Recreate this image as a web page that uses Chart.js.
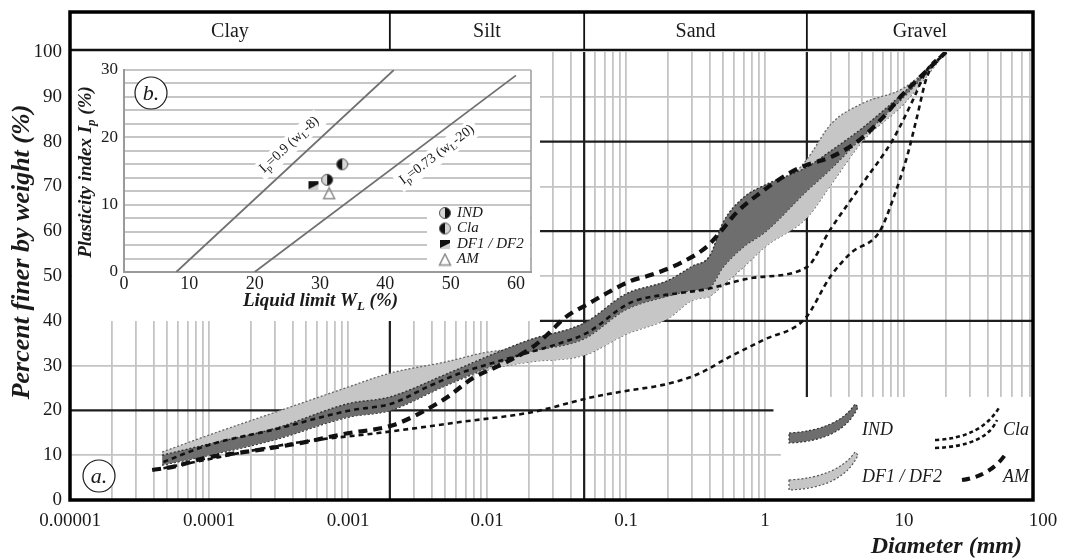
<!DOCTYPE html>
<html>
<head>
<meta charset="utf-8">
<script src="https://cdn.jsdelivr.net/npm/chart.js@4.4.0/dist/chart.umd.min.js"></script>
<style>
  html, body { margin: 0; padding: 0; background: #fff; }
  #wrap { position: relative; width: 1067px; height: 558px; }
  #main { position: absolute; left: 0; top: 0; }
  #insetBox { position: absolute; left: 72px; top: 52px; width: 468px; height: 269px; background: #fff; }
</style>
</head>
<body>
<div id="wrap">
  <canvas id="main" width="1067" height="558"></canvas>
  <div id="insetBox"><canvas id="inset" width="468" height="269"></canvas></div>
</div>
<script>
// ===== DATA: (a.) grain size distribution, diameter (mm) / percent finer =====
const bandD     = [4.6e-5, 1e-4, 3e-4, 1e-3, 2e-3, 5e-3, 0.01, 0.02, 0.05, 0.1, 0.2, 0.3, 0.4, 0.5, 0.7, 1, 2, 3, 5, 10, 20];
const indHigh   = [10, 12.5, 16, 21.5, 23, 28, 32, 35.7, 39.5, 46, 49, 52.2, 54.5, 62, 67.5, 70.3, 74.3, 78, 83, 91, 100];
const indLow    = [7.8, 10, 13.5, 18.5, 20, 25.5, 29.5, 33, 36, 42.5, 45.5, 46.8, 47.5, 52, 56.5, 59.8, 69, 74, 81, 90, 100];
const dfHigh    = [10.7, 14.5, 19.6, 25.2, 28.3, 30.8, 33, 34, 37, 43, 46, 48, 50, 53, 60, 66, 76, 84, 88.5, 92, 100];
const dfLow     = [7.8, 10, 13.5, 18.5, 20, 25.5, 29, 30.8, 32.3, 37, 40.5, 44.6, 45.5, 48, 52, 56.5, 63, 70.5, 80, 88.5, 100];

const claLoD = [4.7e-5, 4.5e-4, 1.7e-3, 6.4e-3, 0.021, 0.058, 0.107, 0.185, 0.324, 0.56, 0.97, 1.94, 2.94, 4.1, 6.7, 8.3, 10.5, 12.4, 14.6, 20];
const claLoP = [7.1, 12.9, 15, 17.4, 19.6, 23, 24.5, 25.7, 28, 32, 35.7, 40.5, 49.8, 55, 60, 67, 76.6, 85.5, 94.4, 100];
const claUpD = [4.7e-5, 1e-4, 3e-4, 1e-3, 2.1e-3, 3.7e-3, 6.4e-3, 0.011, 0.0194, 0.0335, 0.0524, 0.107, 0.245, 0.358, 0.82, 2.0, 2.94, 5.07, 8.3, 11.6, 14.6, 20];
const claUpP = [8.5, 12.3, 15.8, 19.9, 21.6, 25.2, 28.3, 30.6, 32.8, 35, 37.3, 44, 46.2, 46.9, 49.6, 52, 60.3, 70.8, 80.4, 89.3, 96, 100];
const amD = [3.9e-5, 5.5e-5, 9.4e-5, 2e-4, 4.5e-4, 9.2e-4, 2.1e-3, 3.3e-3, 5.2e-3, 7.9e-3, 0.0124, 0.021, 0.028, 0.036, 0.055, 0.073, 0.11, 0.15, 0.25, 0.38, 0.47, 0.63, 0.92, 1.5, 2.0, 3.0, 4.8, 7, 9.7, 14, 20];
const amP = [6.7, 7.4, 9.4, 10.9, 12.7, 14.7, 16.7, 19.4, 23, 27.2, 30.1, 34, 37.3, 40.6, 44, 46.2, 49, 50.2, 53, 56.5, 59.6, 64.3, 68.5, 73, 74.8, 76.6, 80.4, 85.3, 90.4, 95.3, 100];

// soil classes (header row) and their limits in mm
const classNames  = ['Clay', 'Silt', 'Sand', 'Gravel'];
const classBounds = [0.002, 0.05, 2];

// x axis (mm)
const X_MIN = 1e-5, X_MAX = 84.7;
const xTickValues = [1e-5, 1e-4, 1e-3, 0.01, 0.1, 1, 10, 100];
const xTickLabels = ['0.00001', '0.0001', '0.001', '0.01', '0.1', '1', '10', '100'];

// heavy reference lines: [percent, from mm, to mm] and [mm, from %, to %]
const heavyH = [[20, 1e-5, 1.15], [40, 0.024, X_MAX], [60, 0.024, X_MAX], [80, 0.024, X_MAX]];
const heavyV = [[0.002, 0, 40], [0.05, 0, 100], [2, 23, 100]];
const legendCorner = [1.3, 23];   // mm, % : white legend area below/right of this

// ===== DATA: (b.) plasticity chart =====
const line1WL = [8, 41.3],  line1IP = [0, 30];
const line2WL = [20, 60],   line2IP = [0, 29.2];
const sampleNames = ['IND', 'Cla', 'DF1 / DF2', 'AM'];
const sampleWL = [31.1, 33.4, 29, 31.4];
const sampleIP = [13.7, 16, 12.9, 11.7];

const SERIF = "'Liberation Serif', 'Times New Roman', serif";
const INK = '#1a1a1a';
Chart.defaults.font.family = SERIF;
Chart.defaults.color = INK;

const pts = (xs, ys) => xs.map((x, i) => ({ x, y: ys[i] }));

// ===== TEXT HELPERS (subscripts) =====
function richWidth(ctx, parts, size, style) {
  let w = 0;
  parts.forEach(([t, sub]) => {
    ctx.font = `${style} ${sub ? Math.round(size * 0.7) : size}px ${SERIF}`;
    w += ctx.measureText(t).width;
  });
  return w;
}
function drawRich(ctx, parts, x, y, size, style) {
  let cx = x - richWidth(ctx, parts, size, style) / 2;
  ctx.textAlign = 'left';
  ctx.textBaseline = 'middle';
  parts.forEach(([t, sub]) => {
    ctx.font = `${style} ${sub ? Math.round(size * 0.7) : size}px ${SERIF}`;
    ctx.fillText(t, cx, sub ? y + size * 0.3 : y);
    cx += ctx.measureText(t).width;
  });
}
function circleTag(ctx, x, y, text) {
  ctx.beginPath();
  ctx.arc(x, y, 16, 0, 2 * Math.PI);
  ctx.fillStyle = '#fff';
  ctx.fill();
  ctx.lineWidth = 1.2;
  ctx.strokeStyle = INK;
  ctx.stroke();
  ctx.fillStyle = INK;
  ctx.font = `italic 22px ${SERIF}`;
  ctx.textAlign = 'center';
  ctx.textBaseline = 'middle';
  ctx.fillText(text, x, y + 1);
}

// ===== MARKERS for the plasticity chart =====
function makeMarker(kind) {
  const c = document.createElement('canvas');
  c.width = 14; c.height = 14;
  const g = c.getContext('2d');
  if (kind === 'IND' || kind === 'Cla') {
    const half = kind === 'IND' ? [-Math.PI / 2, Math.PI / 2] : [Math.PI / 2, Math.PI * 1.5];
    g.fillStyle = '#d6d6d6';
    g.beginPath(); g.arc(7, 7, 5.5, 0, 2 * Math.PI); g.fill();
    g.fillStyle = '#111';
    g.beginPath(); g.moveTo(7, 7); g.arc(7, 7, 5.5, half[0], half[1]); g.closePath(); g.fill();
    g.strokeStyle = '#555'; g.lineWidth = 1;
    g.beginPath(); g.arc(7, 7, 5.5, 0, 2 * Math.PI); g.stroke();
  } else if (kind === 'DF1 / DF2') {
    g.fillStyle = '#cfcfcf'; g.fillRect(2, 3, 10, 9);
    g.fillStyle = '#111';
    g.beginPath(); g.moveTo(2, 3); g.lineTo(12, 3); g.lineTo(12, 6); g.lineTo(2, 11); g.closePath(); g.fill();
  } else {
    g.strokeStyle = '#8a8a8a'; g.lineWidth = 1.5;
    g.beginPath(); g.moveTo(7, 1.5); g.lineTo(12.5, 12.5); g.lineTo(1.5, 12.5); g.closePath(); g.stroke();
  }
  return c;
}
const markers = sampleNames.map(makeMarker);

// ===== MAIN CHART DECORATION =====
function bandSwatch(ctx, x0, y0, x1, y1, fill, edge) {
  const cx = x0 + (x1 - x0) * 0.75, cy = y0 - 2;
  ctx.beginPath();
  ctx.moveTo(x0, y0 - 5);
  ctx.quadraticCurveTo(cx - 2, cy - 6, x1 - 2, y1);
  ctx.lineTo(x1 + 1, y1 + 3);
  ctx.quadraticCurveTo(cx + 3, cy + 5, x0, y0 + 5);
  ctx.closePath();
  ctx.fillStyle = fill;
  ctx.fill();
  ctx.setLineDash([2, 2]);
  ctx.strokeStyle = edge;
  ctx.lineWidth = 1.2;
  ctx.stroke();
  ctx.setLineDash([]);
}
function dashCurve(ctx, x0, y0, cx, cy, x1, y1, width, dash) {
  ctx.beginPath();
  ctx.moveTo(x0, y0);
  ctx.quadraticCurveTo(cx, cy, x1, y1);
  ctx.setLineDash(dash);
  ctx.lineWidth = width;
  ctx.strokeStyle = '#111';
  ctx.stroke();
  ctx.setLineDash([]);
}

const mainDecor = {
  id: 'mainDecor',
  beforeDatasetsDraw(chart) {
    const { ctx, chartArea: a, scales: { x, y } } = chart;
    ctx.save();
    // legend area hides the grid
    const lx = x.getPixelForValue(legendCorner[0]), ly = y.getPixelForValue(legendCorner[1]);
    ctx.fillStyle = '#fff';
    ctx.fillRect(lx, ly, a.right - lx, a.bottom - ly);
    // heavy lines
    ctx.strokeStyle = '#1e1e1e';
    ctx.lineWidth = 2.2;
    heavyH.forEach(([p, d0, d1]) => {
      ctx.beginPath();
      ctx.moveTo(x.getPixelForValue(d0), y.getPixelForValue(p));
      ctx.lineTo(x.getPixelForValue(d1), y.getPixelForValue(p));
      ctx.stroke();
    });
    heavyV.forEach(([d, p0, p1]) => {
      ctx.beginPath();
      ctx.moveTo(x.getPixelForValue(d), y.getPixelForValue(p0));
      ctx.lineTo(x.getPixelForValue(d), y.getPixelForValue(p1));
      ctx.stroke();
    });
    ctx.restore();
  },
  afterDraw(chart) {
    const { ctx, chartArea: a, scales: { x } } = chart;
    const headTop = 12, headBottom = a.top - 2;
    ctx.save();
    // header row with soil classes
    ctx.strokeStyle = '#111';
    ctx.lineWidth = 2.6;
    ctx.beginPath(); ctx.moveTo(a.left, headBottom); ctx.lineTo(a.right, headBottom); ctx.stroke();
    ctx.lineWidth = 1.8;
    const edges = [a.left, ...classBounds.map(d => x.getPixelForValue(d)), a.right];
    classBounds.forEach(d => {
      const px = x.getPixelForValue(d);
      ctx.beginPath(); ctx.moveTo(px, headTop); ctx.lineTo(px, headBottom); ctx.stroke();
    });
    ctx.fillStyle = INK;
    ctx.font = `20px ${SERIF}`;
    ctx.textAlign = 'center';
    ctx.textBaseline = 'middle';
    classNames.forEach((n, i) => ctx.fillText(n, (edges[i] + edges[i + 1]) / 2, (headTop + headBottom) / 2 + 1));
    // outer frame
    ctx.lineWidth = 3.5;
    ctx.strokeStyle = '#000';
    ctx.strokeRect(a.left, headTop, a.right - a.left, a.bottom - headTop);

    // axis titles
    ctx.fillStyle = INK;
    ctx.font = `bold italic 26px ${SERIF}`;
    ctx.textBaseline = 'middle';
    ctx.save();
    ctx.translate(22, 252);
    ctx.rotate(-Math.PI / 2);
    ctx.textAlign = 'center';
    ctx.fillText('Percent finer by weight (%)', 0, 0);
    ctx.restore();
    ctx.font = `bold italic 24px ${SERIF}`;
    ctx.textAlign = 'right';
    ctx.fillText('Diameter (mm)', a.right - 11, 547);

    // legend
    bandSwatch(ctx, 789, 438, 857, 404, '#6e6e6e', '#333');
    bandSwatch(ctx, 789, 485, 857, 452, '#c6c6c6', '#555');
    dashCurve(ctx, 935, 440, 982, 438, 1000, 406, 2.6, [4, 3]);
    dashCurve(ctx, 935, 448, 986, 446, 997, 420, 2.6, [4, 3]);
    dashCurve(ctx, 962, 480, 990, 476, 1005, 455, 4, [8, 6]);
    ctx.fillStyle = INK;
    ctx.font = `italic 18px ${SERIF}`;
    ctx.textAlign = 'left';
    ctx.textBaseline = 'middle';
    ctx.fillText('IND', 862, 430);
    ctx.fillText('DF1 / DF2', 862, 477);
    ctx.fillText('Cla', 1003, 430);
    ctx.fillText('AM', 1003, 477);

    circleTag(ctx, a.left + 29, a.bottom - 24, 'a.');
    ctx.restore();
  }
};

const isDecade = v => xTickValues.findIndex(t => Math.abs(v / t - 1) < 1e-9);

new Chart(document.getElementById('main'), {
  type: 'line',
  data: {
    datasets: [
      { label: 'DF1 / DF2 low', data: pts(bandD, dfLow), borderColor: '#666', borderWidth: 1.3, borderDash: [2, 2], fill: false, order: 7 },
      { label: 'DF1 / DF2', data: pts(bandD, dfHigh), borderColor: '#666', borderWidth: 1.3, borderDash: [2, 2], fill: '-1', backgroundColor: '#c6c6c6', order: 6 },
      { label: 'IND low', data: pts(bandD, indLow), borderColor: '#333', borderWidth: 1.4, borderDash: [2, 2], fill: false, order: 5 },
      { label: 'IND', data: pts(bandD, indHigh), borderColor: '#333', borderWidth: 1.4, borderDash: [2, 2], fill: '-1', backgroundColor: '#6e6e6e', order: 4 },
      { label: 'Cla', data: pts(claLoD, claLoP), borderColor: '#111', borderWidth: 2.6, borderDash: [5, 4], fill: false, order: 3 },
      { label: 'Cla', data: pts(claUpD, claUpP), borderColor: '#111', borderWidth: 2.6, borderDash: [5, 4], fill: false, order: 2 },
      { label: 'AM', data: pts(amD, amP), borderColor: '#111', borderWidth: 4.2, borderDash: [9, 6], fill: false, order: 1 }
    ]
  },
  options: {
    responsive: false,
    animation: false,
    devicePixelRatio: 1,
    layout: { padding: { top: 52, right: 34, left: 0, bottom: 0 } },
    elements: { point: { radius: 0 }, line: { cubicInterpolationMode: 'monotone' } },
    plugins: { legend: { display: false }, tooltip: { enabled: false } },
    scales: {
      x: {
        type: 'logarithmic',
        min: X_MIN,
        max: X_MAX,
        afterBuildTicks: (scale) => {
          const vals = [];
          xTickValues.forEach(d => {
            for (let m = 1; m < 10; m++) {
              if (d * m <= X_MAX || m === 1) vals.push(d * m);
            }
          });
          scale.ticks = vals.map(value => ({ value }));
        },
        afterFit: (scale) => { scale.height = 58; },
        ticks: {
          autoSkip: false, minRotation: 0, maxRotation: 0, padding: 10,
          font: { size: 19 }, color: INK,
          callback: (v) => { const i = isDecade(v); return i >= 0 ? xTickLabels[i] : ''; }
        },
        grid: {
          drawTicks: false, lineWidth: 1.8,
          color: (c) => {
            const v = c.tick && c.tick.value;
            return (!v || v > X_MAX || v <= X_MIN * 1.0001) ? 'rgba(0,0,0,0)' : '#c4c4c4';
          }
        },
        border: { display: false }
      },
      y: {
        min: 0, max: 100,
        afterFit: (scale) => { scale.width = 70; },
        ticks: { stepSize: 10, padding: 8, font: { size: 19 }, color: INK },
        grid: {
          drawTicks: false, lineWidth: 1.8,
          color: (c) => (c.tick && c.tick.value % 20 === 10) ? '#c4c4c4' : 'rgba(0,0,0,0)'
        },
        border: { display: false }
      }
    }
  },
  plugins: [mainDecor]
});

// ===== INSET (b.) PLASTICITY CHART =====
const lineLabels = [
  { parts: [['I', 0], ['p', 1], ['=0.9 (w', 0], ['L', 1], ['-8)', 0]], wl: 25.3, ip: 18.9, wls: line1WL, ips: line1IP },
  { parts: [['I', 0], ['p', 1], ['=0.73 (w', 0], ['L', 1], ['-20)', 0]], wl: 47.9, ip: 17.4, wls: line2WL, ips: line2IP }
];

const insetDecor = {
  id: 'insetDecor',
  beforeDatasetsDraw(chart) {
    const { ctx, chartArea: a, scales: { x, y } } = chart;
    ctx.save();
    // right border
    ctx.strokeStyle = '#9a9a9a';
    ctx.lineWidth = 1.5;
    ctx.beginPath(); ctx.moveTo(a.right, a.top); ctx.lineTo(a.right, a.bottom); ctx.stroke();
    // white area behind the legend
    ctx.fillStyle = '#fff';
    ctx.fillRect(a.right - 104, a.bottom - 65, 103, 61);
    // labels along the two lines
    lineLabels.forEach(l => {
      const ang = Math.atan2(y.getPixelForValue(l.ips[1]) - y.getPixelForValue(l.ips[0]),
                             x.getPixelForValue(l.wls[1]) - x.getPixelForValue(l.wls[0]));
      ctx.save();
      ctx.translate(x.getPixelForValue(l.wl), y.getPixelForValue(l.ip));
      ctx.rotate(ang);
      const w = richWidth(ctx, l.parts, 14, 'normal');
      ctx.fillStyle = '#fff';
      ctx.fillRect(-w / 2 - 4, -9, w + 8, 19);
      ctx.fillStyle = INK;
      drawRich(ctx, l.parts, 0, 0, 14, 'normal');
      ctx.restore();
    });
    ctx.restore();
  },
  afterDraw(chart) {
    const { ctx, chartArea: a } = chart;
    ctx.save();
    ctx.fillStyle = INK;
    drawRich(ctx, [['Liquid limit W', 0], ['L', 1], [' (%)', 0]], (a.left + a.right) / 2 - 7, a.bottom + 29, 19, 'italic bold');
    ctx.save();
    ctx.translate(14, (a.top + a.bottom) / 2 + 1);
    ctx.rotate(-Math.PI / 2);
    drawRich(ctx, [['Plasticity index I', 0], ['p', 1], [' (%)', 0]], 0, 0, 19, 'italic bold');
    ctx.restore();
    // legend
    sampleNames.forEach((n, i) => {
      const ly = a.bottom - 59 + i * 15.5;
      ctx.drawImage(markers[i], a.right - 93, ly - 7);
      ctx.fillStyle = INK;
      ctx.font = `italic 15px ${SERIF}`;
      ctx.textAlign = 'left';
      ctx.textBaseline = 'middle';
      ctx.fillText(n, a.right - 74, ly);
    });
    circleTag(ctx, a.left + 27, a.top + 23, 'b.');
    ctx.restore();
  }
};

new Chart(document.getElementById('inset'), {
  type: 'scatter',
  data: {
    datasets: [
      { type: 'line', data: pts(line1WL, line1IP), borderColor: '#707070', borderWidth: 1.8, pointRadius: 0 },
      { type: 'line', data: pts(line2WL, line2IP), borderColor: '#707070', borderWidth: 1.8, pointRadius: 0 },
      { data: pts(sampleWL, sampleIP), pointStyle: markers, pointRadius: 6 }
    ]
  },
  options: {
    responsive: false,
    animation: false,
    devicePixelRatio: 1,
    layout: { padding: { top: 18, right: 9, left: 0, bottom: 0 } },
    plugins: { legend: { display: false }, tooltip: { enabled: false } },
    scales: {
      x: {
        type: 'linear', min: 0, max: 62.3,
        afterFit: (scale) => { scale.height = 49; },
        ticks: { stepSize: 10, includeBounds: false, padding: 1, font: { size: 18 }, color: INK, maxRotation: 0 },
        grid: { display: false, drawTicks: false },
        border: { display: true, color: '#9a9a9a', width: 2 }
      },
      y: {
        min: 0, max: 30,
        afterFit: (scale) => { scale.width = 52; },
        ticks: { stepSize: 2, autoSkip: false, padding: 6, font: { size: 17 }, color: INK,
                 callback: (v) => (v % 10 === 0 ? v : '') },
        grid: { drawTicks: false, color: '#c6c6c6', lineWidth: 2 },
        border: { display: true, color: '#9a9a9a', width: 2 }
      }
    }
  },
  plugins: [insetDecor]
});
</script>
</body>
</html>
